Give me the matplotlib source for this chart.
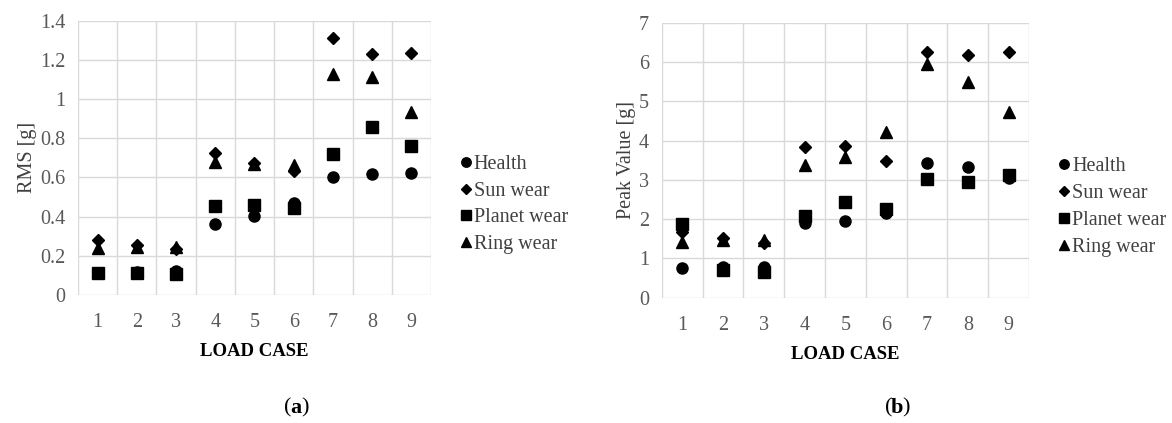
import numpy as np
import matplotlib
matplotlib.use("Agg")
import matplotlib.pyplot as plt

# load cases 1..9
cases = [1, 2, 3, 4, 5, 6, 7, 8, 9]

# (a) RMS [g]
rms_health = [0.11, 0.115, 0.125, 0.362, 0.403, 0.468, 0.604, 0.616, 0.621]
rms_sun = [0.28, 0.255, 0.233, 0.723, 0.672, 0.633, 1.313, 1.228, 1.237]
rms_planet = [0.11, 0.11, 0.105, 0.454, 0.459, 0.442, 0.72, 0.856, 0.76]
rms_ring = [0.24, 0.245, 0.245, 0.68, 0.668, 0.663, 1.128, 1.114, 0.936]

# (b) Peak value [g]
peak_health = [0.76, 0.79, 0.79, 1.91, 1.95, 2.15, 3.42, 3.32, 3.05]
peak_sun = [1.68, 1.53, 1.38, 3.84, 3.86, 3.47, 6.26, 6.17, 6.25]
peak_planet = [1.87, 0.70, 0.66, 2.09, 2.43, 2.25, 3.02, 2.95, 3.12]
peak_ring = [1.42, 1.48, 1.48, 3.39, 3.57, 4.22, 5.96, 5.50, 4.72]

series_labels = ["Health", "Sun wear", "Planet wear", "Ring wear"]
markers = ["o", "D", "s", "^"]
msizes = [8.0, 6.0, 8.0, 8.0]

plt.rcParams["font.family"] = ["Liberation Serif", "DejaVu Serif"]
GRID = "#d9d9d9"
TICK = "#595959"
FS = 14.5

fig = plt.figure(figsize=(11.72, 4.23), dpi=100)
W, H = 1172, 423
ax_a = fig.add_axes([78 / W, 1 - 295 / H, (431 - 78) / W, (295 - 20.7) / H])
ax_b = fig.add_axes([661.7 / W, 1 - 297.7 / H, (1029 - 661.7) / W, (297.7 - 22.7) / H])


def draw(ax, data, ylabel, ylim, yticks, yticklabels):
    for ys, lab, m, ms in zip(data, series_labels, markers, msizes):
        ax.plot(cases, ys, linestyle="none", marker=m, markersize=ms,
                color="black", label=lab)
    ax.set_xlim(0.5, 9.5)
    ax.set_ylim(*ylim)
    ax.set_xticks(cases)
    ax.set_xticks(np.arange(0.5, 10, 1), minor=True)
    ax.set_yticks(yticks)
    ax.set_yticklabels(yticklabels)
    ax.grid(which="minor", axis="x", color=GRID, lw=1)
    ax.grid(which="major", axis="y", color=GRID, lw=1)
    ax.set_axisbelow(True)
    for s in ax.spines.values():
        s.set_visible(False)
    ax.tick_params(which="both", length=0, labelsize=FS, colors=TICK)
    ax.tick_params(axis="x", pad=13)
    ax.tick_params(axis="y", pad=9)
    ax.set_ylabel(ylabel, fontsize=FS, color="#404040", labelpad=2)
    ax.set_xlabel("LOAD CASE", fontsize=13.5, fontweight="bold", labelpad=8)
    ax.legend(loc="center left", bbox_to_anchor=(1.03, 0.33), frameon=False,
              fontsize=FS, markerscale=0.85, handlelength=0.6,
              handletextpad=0.1, labelspacing=0.38, labelcolor="#404040")


yt_a = [0, 0.2, 0.4, 0.6, 0.8, 1.0, 1.2, 1.4]
draw(ax_a, [rms_health, rms_sun, rms_planet, rms_ring], "RMS [g]", (0, 1.4),
     yt_a, ["0", "0.2", "0.4", "0.6", "0.8", "1", "1.2", "1.4"])
yt_b = [0, 1, 2, 3, 4, 5, 6, 7]
draw(ax_b, [peak_health, peak_sun, peak_planet, peak_ring], "Peak Value [g]", (0, 7),
     yt_b, [str(v) for v in yt_b])

for cx, letter in [(296, "a"), (897, "b")]:
    y = 1 - 408 / H
    fig.text((cx - 4.5) / W, y, "(", fontsize=16, ha="right", va="center")
    fig.text(cx / W, y, letter, fontsize=16, fontweight="bold", ha="center", va="center")
    fig.text((cx + 5) / W, y, ")", fontsize=16, ha="left", va="center")

fig.savefig("out.png", dpi=100)
